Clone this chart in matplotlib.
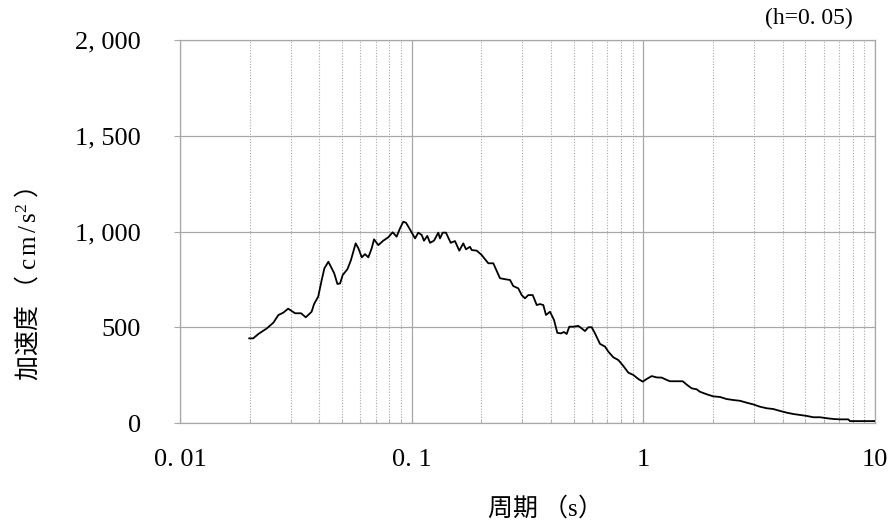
import matplotlib
matplotlib.use("Agg")
import matplotlib.pyplot as plt
from matplotlib.ticker import FixedLocator, LogLocator, NullFormatter, FuncFormatter

# response spectrum (h=0.05)
periods = [0.0199, 0.0207, 0.0218, 0.0237, 0.0253, 0.0266, 0.0279, 0.0293, 0.0314, 0.0333,
           0.0349, 0.0370, 0.0379, 0.0395, 0.0409, 0.0420, 0.0437, 0.0463, 0.0478, 0.0491,
           0.0504, 0.0528, 0.0547, 0.0573, 0.0589, 0.0609, 0.0629, 0.0650, 0.0672, 0.0688,
           0.0718, 0.0754, 0.0793, 0.0828, 0.0861, 0.0891, 0.0920, 0.0945, 0.0983, 0.1034,
           0.1068, 0.1105, 0.1130, 0.1168, 0.1200, 0.1248, 0.1303, 0.1325, 0.1361, 0.1406,
           0.1474, 0.1538, 0.1605, 0.1670, 0.1716, 0.1786, 0.1816, 0.1909, 0.2006, 0.2142,
           0.2251, 0.2405, 0.2554, 0.2657, 0.2746, 0.2886, 0.2985, 0.3084, 0.3187, 0.3330,
           0.3466, 0.3580, 0.3700, 0.3800, 0.3955, 0.4116, 0.4253, 0.4399, 0.4545, 0.4669,
           0.4791, 0.4986, 0.5240, 0.5419, 0.5601, 0.5787, 0.5986, 0.6185, 0.6501, 0.6832,
           0.7059, 0.7419, 0.7797, 0.8194, 0.8612, 0.9051, 0.9512, 0.9936, 1.034, 1.087,
           1.142, 1.200, 1.261, 1.303, 1.393, 1.479, 1.548, 1.617, 1.699, 1.756,
           1.877, 2.004, 2.142, 2.290, 2.446, 2.614, 2.793, 2.984, 3.189, 3.408,
           3.639, 3.890, 4.157, 4.440, 4.745, 5.072, 5.416, 5.788, 6.187, 6.607,
           7.062, 7.668, 7.798, 8.613, 9.676, 10.0]
accel = [442, 442, 465, 494, 524, 564, 576, 597, 573, 573,
         552, 581, 621, 660, 747, 808, 842, 782, 726, 729,
         773, 803, 851, 938, 912, 865, 882, 865, 912, 959,
         929, 952, 970, 996, 973, 1017, 1051, 1046, 1011, 964,
         994, 982, 952, 977, 941, 952, 994, 964, 994, 994,
         941, 950, 900, 938, 907, 920, 903, 900, 877, 834,
         834, 756, 750, 747, 715, 703, 668, 651, 668, 668,
         616, 621, 616, 564, 581, 538, 471, 468, 475, 465,
         503, 503, 507, 494, 480, 500, 500, 468, 413, 399,
         373, 343, 329, 298, 263, 251, 230, 216, 230, 245,
         238, 237, 225, 218, 218, 218, 198, 181, 176, 163,
         150, 139, 136, 125, 120, 116, 106, 97, 85, 77,
         73, 63, 54, 47, 42, 37, 30, 30, 25, 21,
         19, 19, 10, 10, 10, 10]

y_ticks = [0, 500, 1000, 1500, 2000]
x_ticks = [0.01, 0.1, 1, 10]
x_tick_labels = ["0. 01", "0. 1", "1", "10"]

plt.rcParams["font.family"] = ["Liberation Serif", "Noto Sans CJK JP", "DejaVu Sans"]
plt.rcParams["mathtext.fontset"] = "custom"
plt.rcParams["mathtext.rm"] = "Liberation Serif"
plt.rcParams["mathtext.it"] = "Liberation Serif"
plt.rcParams["mathtext.default"] = "rm"

fig = plt.figure(figsize=(8.93, 5.25), dpi=100)
ax = fig.add_axes([180 / 893, 1 - 423 / 525, 695 / 893, 383 / 525])

ax.plot(periods, accel, color="black", lw=1.3, zorder=3)

ax.set_xscale("log")
ax.set_xlim(0.01, 10)
ax.set_ylim(0, 2000)

ax.xaxis.set_major_locator(FixedLocator(x_ticks))
ax.set_xticklabels(x_tick_labels)
ax.xaxis.set_minor_locator(LogLocator(base=10, subs=range(2, 10)))
ax.xaxis.set_minor_formatter(NullFormatter())
ax.yaxis.set_major_locator(FixedLocator(y_ticks))
ax.yaxis.set_major_formatter(FuncFormatter(lambda v, p: f"{int(v):,}".replace(",", ", ")))

ax.grid(True, which="major", axis="both", color="#a8a8a8", lw=0.9, ls="-")
ax.grid(True, which="minor", axis="x", color="#a8a8a8", lw=0.8, ls=(0, (1, 1.5)))
ax.set_axisbelow(True)

for s in ax.spines.values():
    s.set_color("#a8a8a8")
    s.set_linewidth(0.9)

ax.tick_params(axis="x", which="both", direction="in", length=3, color="#a8a8a8",
               labelsize=19, pad=19)
ax.tick_params(axis="y", which="major", direction="out", length=4, color="#a8a8a8",
               labelsize=19, pad=24)

cjk = ["Noto Sans CJK JP"]
fig.text(537 / 893, 1 - 508 / 525, r"周期 （$\mathrm{s}$）", ha="center", va="center",
         fontsize=18, family=cjk)
fig.text(28 / 893, 1 - 285 / 525, r"加速度 （ $\mathrm{c\,m\,/\,s^{2}}$ ）", ha="center",
         va="center", rotation=90, fontsize=18, family=cjk)
fig.text(853 / 893, 1 - 18 / 525, "(h=0. 05)", ha="right", va="center", fontsize=17)

fig.savefig("out.png", dpi=100)
